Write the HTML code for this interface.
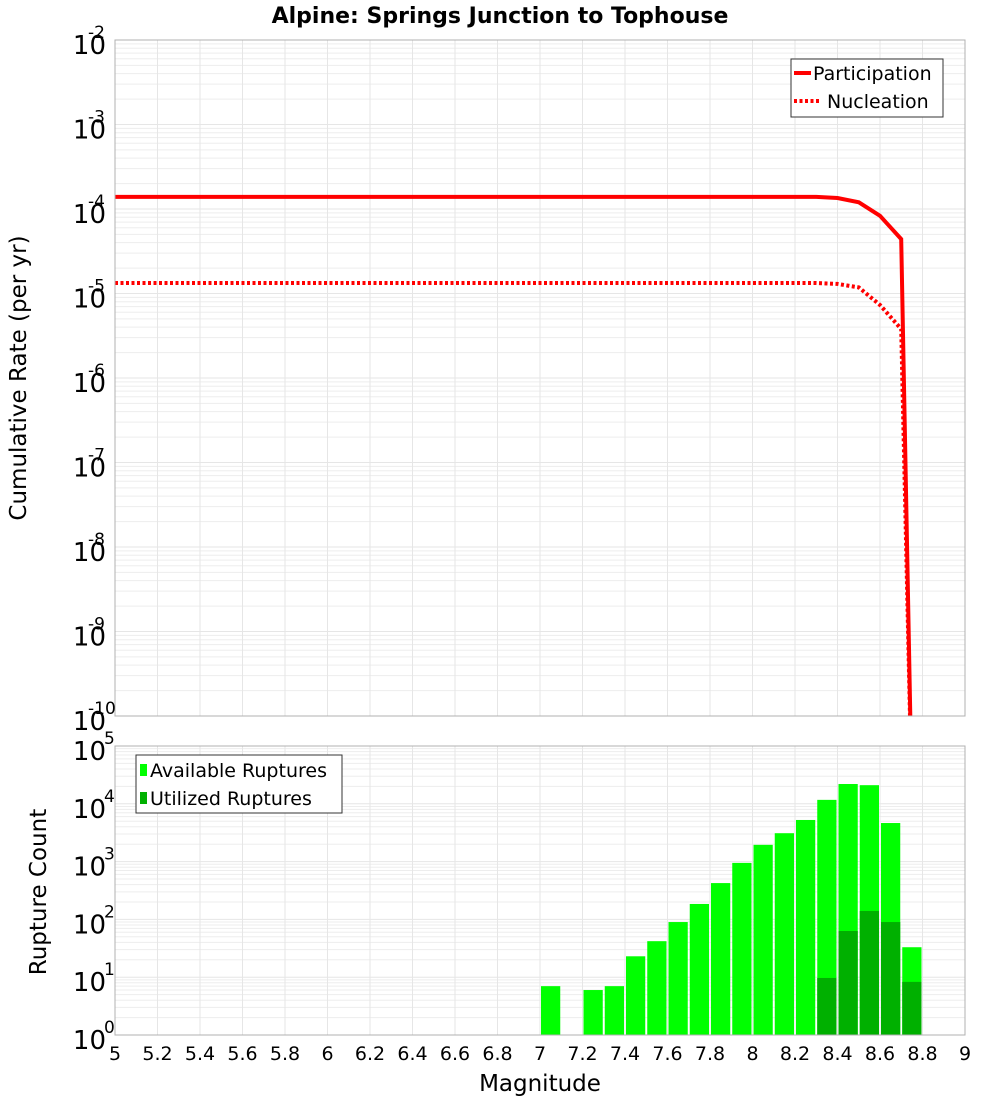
<!DOCTYPE html>
<html><head><meta charset="utf-8"><style>
body{margin:0;background:#fff;font-family:"DejaVu Sans","Liberation Sans",sans-serif}
svg text{font-family:"DejaVu Sans","Liberation Sans",sans-serif}
</style></head><body>
<svg id="c" width="1000" height="1100" xmlns="http://www.w3.org/2000/svg"></svg>
<script>
const magPts=[5.0,5.1,5.2,5.3,5.4,5.5,5.6,5.7,5.8,5.9,6.0,6.1,6.2,6.3,6.4,6.5,6.6,6.7,6.8,6.9,7.0,7.1,7.2,7.3,7.4,7.5,7.6,7.7,7.8,7.9,8.0,8.1,8.2,8.3,8.4,8.5,8.6,8.7,8.75];
const partic=[1.39e-4,1.39e-4,1.39e-4,1.39e-4,1.39e-4,1.39e-4,1.39e-4,1.39e-4,1.39e-4,1.39e-4,1.39e-4,1.39e-4,1.39e-4,1.39e-4,1.39e-4,1.39e-4,1.39e-4,1.39e-4,1.39e-4,1.39e-4,1.39e-4,1.39e-4,1.39e-4,1.39e-4,1.39e-4,1.39e-4,1.39e-4,1.39e-4,1.39e-4,1.39e-4,1.39e-4,1.39e-4,1.39e-4,1.39e-4,1.35e-4,1.2e-4,8.3e-5,4.4e-5,1e-11];
const nucl=[1.33e-5,1.33e-5,1.33e-5,1.33e-5,1.33e-5,1.33e-5,1.33e-5,1.33e-5,1.33e-5,1.33e-5,1.33e-5,1.33e-5,1.33e-5,1.33e-5,1.33e-5,1.33e-5,1.33e-5,1.33e-5,1.33e-5,1.33e-5,1.33e-5,1.33e-5,1.33e-5,1.33e-5,1.33e-5,1.33e-5,1.33e-5,1.33e-5,1.33e-5,1.33e-5,1.33e-5,1.33e-5,1.33e-5,1.33e-5,1.3e-5,1.18e-5,7.3e-6,3.8e-6,1e-11];
const binStarts=[7.0,7.2,7.3,7.4,7.5,7.6,7.7,7.8,7.9,8.0,8.1,8.2,8.3,8.4,8.5,8.6,8.7];
const available=[7,6,7,23,42,90,185,425,950,1950,3100,5250,11700,22000,21000,4650,33];
const utilized=[0,0,0,0,0,0,0,0,0,0,0,0,9.7,63,140,90,8.3];
const xTicks=[5,5.2,5.4,5.6,5.8,6,6.2,6.4,6.6,6.8,7,7.2,7.4,7.6,7.8,8,8.2,8.4,8.6,8.8,9];
const topExps=[-2,-3,-4,-5,-6,-7,-8,-9,-10];
const botExps=[5,4,3,2,1,0];

const svg=document.getElementById('c');const NS='http://www.w3.org/2000/svg';
function el(t,a,p){const e=document.createElementNS(NS,t);for(const k in a)e.setAttribute(k,a[k]);(p||svg).appendChild(e);return e;}
const L=115,R=965;
const x=m=>L+(m-5)/4*(R-L);
const T0=40,T1=716;const yT=v=>T0+(-2-Math.log10(v))/8*(T1-T0);
const B0=746,B1=1035;const yB=v=>B0+(5-Math.log10(v))/5*(B1-B0);

function grid(top,bot,yf,e0,e1,nm){
  const g=el('g',{});
  for(let e=e1;e<e0;e++)for(let k=1;k<10;k++){const yy=yf(k*Math.pow(10,e));el('line',{x1:L,x2:R,y1:yy,y2:yy,stroke:k==1?'#e6e6e6':'#ededed','stroke-width':1},g);}
  xTicks.forEach(t=>{el('line',{x1:x(t),x2:x(t),y1:top,y2:bot,stroke:'#e6e6e6'},g);});
}
grid(T0,T1,yT,-2,-10,'top-grid');grid(B0,B1,yB,5,0,'bottom-grid');

const cp=el('clipPath',{id:'cp'});el('rect',{x:L,y:T0,width:R-L,height:T1-T0},cp);
function line(vals,dash,nm){let d='';magPts.forEach((m,i)=>{d+=(i?'L':'M')+x(m).toFixed(1)+','+yT(vals[i]).toFixed(1);});
  const p=el('path',{d:d,fill:'none',stroke:'#ff0000','stroke-width':4,'clip-path':'url(#cp)'});if(dash)p.setAttribute('stroke-dasharray','3,2.5');
  }
line(nucl,true,'nucleation-line');line(partic,false,'participation-line');

binStarts.forEach((m,i)=>{
  const r=el('rect',{x:x(m)+1,y:yB(available[i]),width:x(m+0.1)-x(m)-2,height:B1-yB(available[i]),fill:'#00ff00'});
  
  if(utilized[i]>0){const u=el('rect',{x:x(m)+1,y:yB(utilized[i]),width:x(m+0.1)-x(m)-2,height:B1-yB(utilized[i]),fill:'#00b000'});
  }
});

el('rect',{x:L,y:T0,width:R-L,height:T1-T0,fill:'none',stroke:'#b0b0b0'});
el('rect',{x:L,y:B0,width:R-L,height:B1-B0,fill:'none',stroke:'#b0b0b0'});

function ylab(exps,yf,nm){exps.forEach(e=>{const yy=yf(Math.pow(10,e));
  const t=el('text',{x:106,y:yy+14,'text-anchor':'end','font-size':26});t.textContent='10';
  
  const s=el('text',{x:104,y:yy-2,'font-size':17,'text-anchor':'start'});s.textContent=String(e);
  
  s.setAttribute('x', e<0?88:104);
});}
ylab(topExps,yT,'top-y-tick');ylab(botExps,yB,'bottom-y-tick');

xTicks.forEach(t=>{const tx=el('text',{x:x(t),y:1060,'text-anchor':'middle','font-size':19});tx.textContent=String(t);
  });
</script>
<svg style="position:absolute;left:0;top:0" width="1000" height="1100" xmlns="http://www.w3.org/2000/svg">
<text x="500" y="23" text-anchor="middle" font-size="22" font-weight="bold">Alpine: Springs Junction to Tophouse</text>
<text transform="translate(26,378) rotate(-90)" text-anchor="middle" font-size="23">Cumulative Rate (per yr)</text>
<text transform="translate(46,892) rotate(-90)" text-anchor="middle" font-size="23">Rupture Count</text>
<text x="540" y="1091" text-anchor="middle" font-size="23">Magnitude</text>
<g>
<rect x="791" y="59" width="152" height="58" fill="#fff" stroke="#333"/>
<line x1="794" y1="73" x2="811" y2="73" stroke="#f00" stroke-width="4"/>
<text x="813" y="80" font-size="19">Participation</text>
<line x1="794" y1="101" x2="820" y2="101" stroke="#f00" stroke-width="4" stroke-dasharray="3,2.5"/>
<text x="827" y="108" font-size="19">Nucleation</text>
</g>
<g>
<rect x="136" y="755" width="206" height="58" fill="#fff" stroke="#333"/>
<rect x="140" y="764" width="7" height="12" fill="#00ff00"/>
<text x="150" y="777" font-size="19">Available Ruptures</text>
<rect x="140" y="792" width="7" height="12" fill="#00b000"/>
<text x="150" y="805" font-size="19">Utilized Ruptures</text>
</g>
</svg>
</body></html>
